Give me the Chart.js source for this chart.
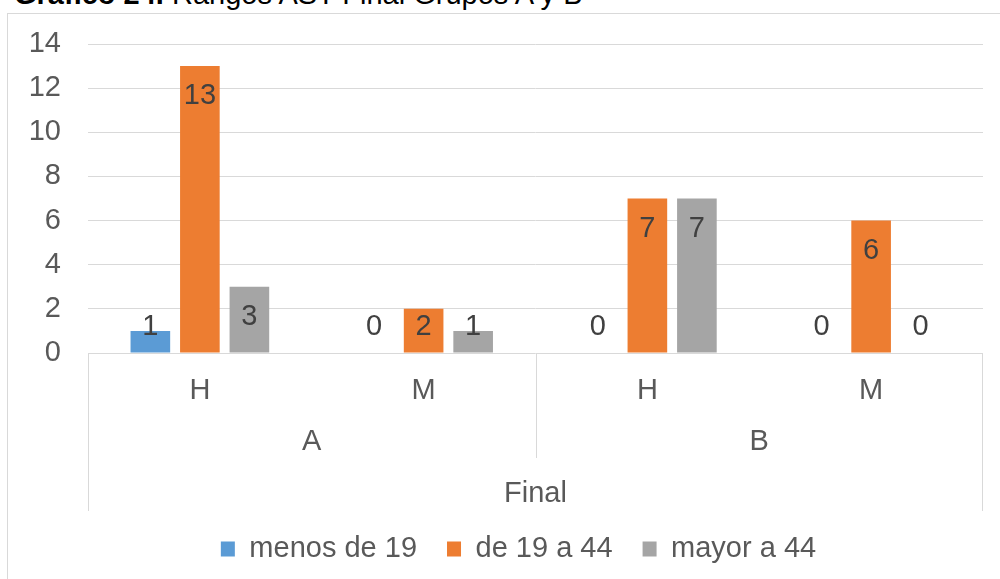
<!DOCTYPE html>
<html>
<head>
<meta charset="utf-8">
<script src="https://cdn.jsdelivr.net/npm/chart.js@4.4.1/dist/chart.umd.min.js"></script>
<style>
  html, body { margin: 0; padding: 0; overflow: hidden; background: #fff; width: 1000px; height: 579px; }
  #titulo { position: absolute; left: 14px; top: -20px; font-family: "Liberation Sans", Arial, sans-serif; font-size: 29px; line-height: 29px; color: #000; white-space: nowrap; }
  #caja { position: absolute; left: 7px; top: 13px; width: 1023px; height: 580px; border: 1px solid #d9d9d9; box-sizing: border-box; }
</style>
</head>
<body>
<div id="titulo"><b>Gráfico 24.</b> Rangos AST Final Grupos A y B</div>
<div id="caja"><canvas id="grafico"></canvas></div>
<script>
let categorias = ['H', 'M', 'H', 'M'];
let grupos = ['A', 'B'];
let nivelSuperior = 'Final';
let series = ['menos de 19', 'de 19 a 44', 'mayor a 44'];
let menosDe19 = [1, 0, 0, 0];
let de19a44 = [13, 2, 7, 6];
let mayorA44 = [3, 1, 7, 0];
let ticksY = [0, 2, 4, 6, 8, 10, 12, 14];

let fuente = '"Liberation Sans", Arial, sans-serif';
let gris = '#595959';

// etiquetas de datos "extremo interno" como en Excel
const etiquetasDatos = {
    id: 'etiquetasDatos',
    afterDatasetsDraw(chart) {
        const ctx = chart.ctx;
        ctx.save();
        ctx.font = '29px ' + fuente;
        ctx.fillStyle = '#404040';
        ctx.textAlign = 'center';
        ctx.textBaseline = 'middle';
        chart.data.datasets.forEach((ds, i) => {
            chart.getDatasetMeta(i).data.forEach((bar, j) => {
                let y = Math.min(bar.y + 30, bar.base - 26);
                ctx.fillText(ds.data[j], bar.x, y);
            });
        });
        ctx.restore();
    }
};

// eje de categorias de varios niveles (H/M, A/B, Final)
const ejeMultinivel = {
    id: 'ejeMultinivel',
    afterDraw(chart) {
        const x = chart.scales.x;
        const ctx = chart.ctx;
        const izq = Math.round(x.left) + 0.5;
        const der = Math.round(x.right) - 0.5;
        const medio = Math.round((x.getPixelForValue(1) + x.getPixelForValue(2)) / 2) + 0.5;
        ctx.save();
        ctx.strokeStyle = '#d9d9d9';
        ctx.lineWidth = 1;
        ctx.beginPath();
        ctx.moveTo(izq, x.top); ctx.lineTo(izq, x.top + 158);
        ctx.moveTo(der, x.top); ctx.lineTo(der, x.top + 158);
        ctx.moveTo(medio, x.top); ctx.lineTo(medio, x.top + 105);
        ctx.stroke();

        ctx.font = '29px ' + fuente;
        ctx.fillStyle = gris;
        ctx.textAlign = 'center';
        ctx.textBaseline = 'middle';
        grupos.forEach((g, k) => {
            let cx = (x.getPixelForValue(2 * k) + x.getPixelForValue(2 * k + 1)) / 2;
            ctx.fillText(g, cx, x.top + 89);
        });
        ctx.fillText(nivelSuperior, (x.left + x.right) / 2, x.top + 141);
        ctx.restore();
    }
};

let grafico = new Chart(document.getElementById('grafico'), {
    type: 'bar',
    data: {
        labels: categorias,
        datasets: [
            { label: series[0], data: menosDe19, backgroundColor: '#5b9bd5', categoryPercentage: 0.664, barPercentage: 0.8 },
            { label: series[1], data: de19a44, backgroundColor: '#ed7d31', categoryPercentage: 0.664, barPercentage: 0.8 },
            { label: series[2], data: mayorA44, backgroundColor: '#a5a5a5', categoryPercentage: 0.664, barPercentage: 0.8 }
        ]
    },
    options: {
        responsive: true,
        maintainAspectRatio: false,
        animation: false,
        layout: { padding: { top: 30, bottom: 18.5, left: 0, right: 0 } },
        plugins: {
            title: { display: false },
            tooltip: { enabled: false },
            legend: {
                position: 'bottom',
                labels: {
                    boxWidth: 14,
                    boxHeight: 15,
                    padding: 30,
                    color: gris,
                    font: { size: 29, family: fuente }
                }
            }
        },
        scales: {
            x: {
                grid: { display: false },
                border: { display: false },
                ticks: { color: gris, padding: 13, font: { size: 29, family: fuente } },
                afterFit: (s) => { s.height = 151.5; }
            },
            y: {
                min: 0,
                max: 14,
                afterBuildTicks: (s) => { s.ticks = ticksY.map(v => ({ value: v })); },
                grid: { color: '#d9d9d9', drawTicks: false },
                border: { display: false },
                ticks: { color: gris, padding: 27, font: { size: 29, family: fuente } },
                // el padding de las etiquetas no debe empujar el area del grafico
                afterFit: (s) => { s.width = 80; s.paddingTop = 0; s.paddingBottom = 0; }
            },
            yDer: {
                position: 'right',
                grid: { display: false },
                border: { display: false },
                ticks: { display: false },
                afterFit: (s) => { s.width = 46; s.paddingTop = 0; s.paddingBottom = 0; }
            }
        }
    },
    plugins: [etiquetasDatos, ejeMultinivel]
});
</script>
</body>
</html>
